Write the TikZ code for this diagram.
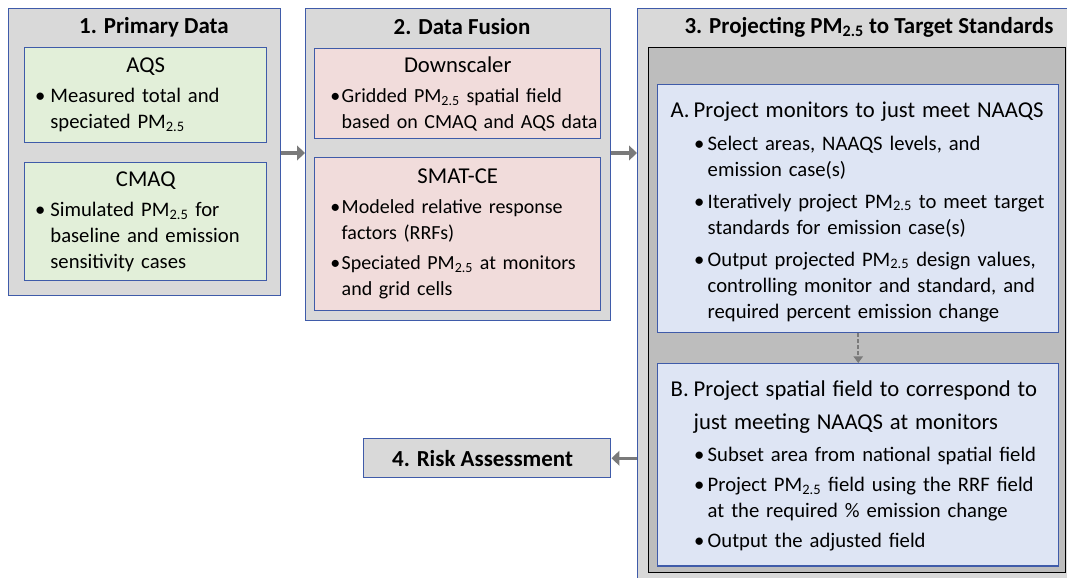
\documentclass[tikz,border=0pt]{standalone}
\usepackage{fontspec}
\setmainfont{Carlito}
\usetikzlibrary{arrows.meta}

\definecolor{frameblue}{HTML}{3F5BA9}
\definecolor{panelgray}{HTML}{D9D9D9}
\definecolor{stagegray}{HTML}{BDBDBD}
\definecolor{datagreen}{HTML}{E2EFD9}
\definecolor{fusionpink}{HTML}{F1DCDB}
\definecolor{stepblue}{HTML}{DEE5F4}
\definecolor{arrowgray}{HTML}{7A7A7A}

\newlength\bulletpos
\newlength\bulletwd
\newcommand{\pmtf}{PM\textsubscript{2.5}}
\newcommand{\cardhead}[1]{{\fontsize{17}{20}\selectfont\centering #1\par}}
\newcommand{\bitem}[2][3pt]{\par\vspace{#1}\hangindent=\dimexpr\bulletpos+\bulletwd\relax\hangafter=1\noindent\hspace*{\bulletpos}\makebox[\bulletwd][l]{•}#2}
\newcommand{\stephead}[2]{{\fontsize{17}{24.5}\selectfont\par\hangindent=23.25pt\hangafter=1\noindent\hspace*{6pt}\makebox[17.25pt][l]{#1}#2\par}}
\newcommand{\bottomgap}[1]{\par\vspace{#1}\hrule height0pt width0pt}

\begin{document}
\begin{tikzpicture}[x=0.75pt, y=-0.75pt,
  every node/.style={font=\fontsize{15.5}{19.5}\selectfont},
  title/.style={font=\fontsize{17.2}{20}\selectfont\bfseries},
  boxsize/.style 2 args={minimum width=#1*0.75pt, minimum height=#2*0.75pt},
  bul/.style 2 args={execute at begin node={\setlength\bulletpos{#1}\setlength\bulletwd{#2}}},
  panel/.style={draw=frameblue, fill=panelgray, line width=1.1pt, anchor=north west, inner sep=0pt},
  card/.style={draw=frameblue, line width=1.1pt, anchor=north west, inner xsep=3.75pt, inner ysep=0pt},
  flow/.style={draw=arrowgray, line width=2.4pt, -{Triangle[length=6pt, width=11pt]}}]
\useasboundingbox (0,0) rectangle (1067,578);
% 1. Primary Data
\node[panel, boxsize={272}{287}] (prim) at (8,8) {};
\node[title] (primtitle) at (154,27) {1. Primary Data};
\node[card, fill=datagreen, boxsize={242}{95}, text width=174pt, bul={4pt}{11.5pt}] (aqs) at (24,47)
  {\cardhead{AQS}\bitem[3pt]{Measured total and\newline speciated \pmtf}\par};
\node[card, fill=datagreen, boxsize={242}{118}, text width=174pt, bul={4pt}{11.5pt}] (cmaq) at (24,162)
  {\cardhead{CMAQ}\bitem[3pt]{Simulated \pmtf{} for\newline baseline and emission\newline sensitivity cases}\par};
% 2. Data Fusion
\node[panel, boxsize={305}{312}] (fusion) at (305,8) {};
\node[title] (fusiontitle) at (462,27) {2. Data Fusion};
\node[card, fill=fusionpink, boxsize={286}{90}, text width=212pt, inner xsep=1.25pt, bul={10.5pt}{8.5pt}, font=\fontsize{15}{19.5}\selectfont] (downscaler) at (314,48)
  {\cardhead{Downscaler}\bitem[3pt]{Gridded \pmtf{} spatial field\newline based on CMAQ and AQS data}\par};
\node[card, fill=fusionpink, boxsize={286}{153}, text width=212pt, inner xsep=1.25pt, bul={10.5pt}{8.5pt}, font=\fontsize{15}{19.5}\selectfont] (smat) at (314,157)
  {\cardhead{SMAT-CE}\bitem[3pt]{Modeled relative response\newline factors (RRFs)}\bitem{Speciated \pmtf{} at monitors\newline and grid cells}\par};
% 3. Projecting
\node[panel, boxsize={440}{580}] (proj) at (637,8) {};
\node[title] (projtitle) at (869,27) {3. Projecting \pmtf{} to Target Standards};
\node[draw=black, fill=stagegray, line width=1.1pt, anchor=north west, inner sep=0pt, boxsize={417}{525}] (stage) at (648,47) {};
\node[card, fill=stepblue, boxsize={401}{246}, text width=293.25pt, bul={23.5pt}{10.25pt}] (stepA) at (657,84)
  {\stephead{A.}{Project monitors to just meet NAAQS}%
   \bitem[5pt]{Select areas, NAAQS levels, and\newline emission case(s)}%
   \bitem[4.5pt]{Iteratively project \pmtf{} to meet target\newline standards for emission case(s)}%
   \bitem[4.5pt]{Output projected \pmtf{} design values,\newline controlling monitor and standard, and\newline required percent emission change}\bottomgap{8pt}};
\node[card, fill=stepblue, boxsize={401}{200}, text width=293.25pt, bul={23.5pt}{10.25pt}] (stepB) at (657,363)
  {\stephead{B.}{Project spatial field to correspond to\newline just meeting NAAQS at monitors}%
   \bitem[5pt]{Subset area from national spatial field}%
   \bitem[3pt]{Project \pmtf{} field using the RRF field\newline at the required \% emission change}%
   \bitem[3pt]{Output the adjusted field}\bottomgap{11pt}};
% 4. Risk
\node[panel, boxsize={247}{39}, title] (risk) at (363,438) {4. Risk Assessment\hspace*{7pt}};
% arrows
\coordinate (flowy) at (0,153);
\draw[flow] (prim.east |- flowy) -- (fusion.west |- flowy);
\draw[flow] (fusion.east |- flowy) -- (proj.west |- flowy);
\draw[flow] (proj.west |- risk.east) -- (risk.east);
\draw[flow, line width=1.3pt, dash pattern=on 3pt off 1.5pt, -{Triangle[length=5pt, width=7pt]}] (stepA.south) -- (stepB.north);
\end{tikzpicture}
\end{document}
